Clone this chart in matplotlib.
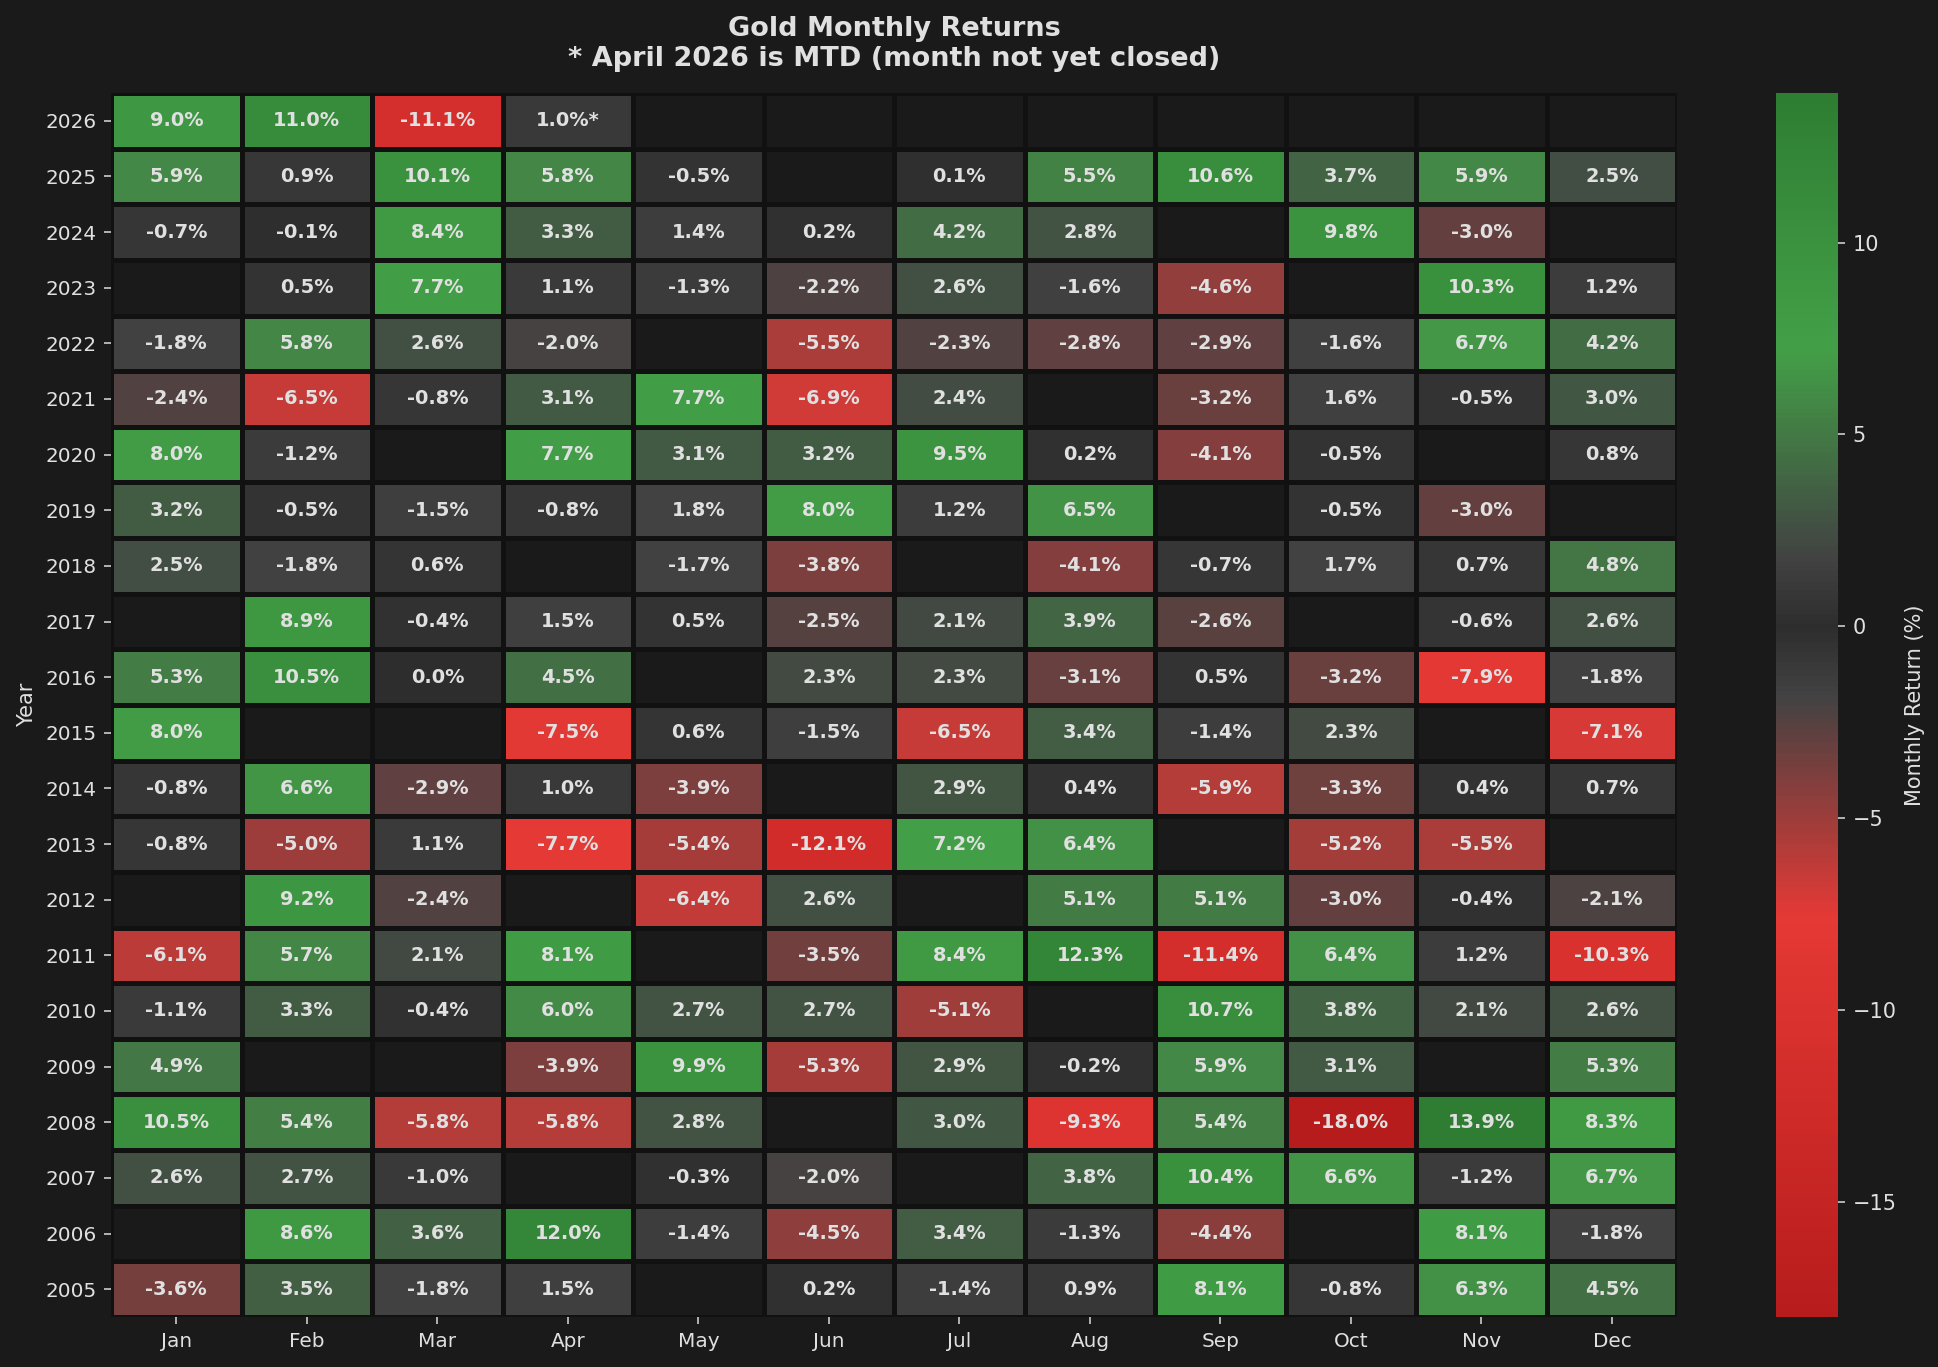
import numpy as np
import matplotlib
matplotlib.use("Agg")
import matplotlib.pyplot as plt
from matplotlib.colors import LinearSegmentedColormap, Normalize

nan = np.nan

months = ['Jan', 'Feb', 'Mar', 'Apr', 'May', 'Jun', 'Jul', 'Aug', 'Sep', 'Oct', 'Nov', 'Dec']
years = [2026, 2025, 2024, 2023, 2022, 2021, 2020, 2019, 2018, 2017, 2016,
         2015, 2014, 2013, 2012, 2011, 2010, 2009, 2008, 2007, 2006, 2005]

# monthly returns in %, one row per year (top row = 2026)
r2026 = [9.0, 11.0, -11.1, 1.0, nan, nan, nan, nan, nan, nan, nan, nan]
r2025 = [5.9, 0.9, 10.1, 5.8, -0.5, nan, 0.1, 5.5, 10.6, 3.7, 5.9, 2.5]
r2024 = [-0.7, -0.1, 8.4, 3.3, 1.4, 0.2, 4.2, 2.8, nan, 9.8, -3.0, nan]
r2023 = [nan, 0.5, 7.7, 1.1, -1.3, -2.2, 2.6, -1.6, -4.6, nan, 10.3, 1.2]
r2022 = [-1.8, 5.8, 2.6, -2.0, nan, -5.5, -2.3, -2.8, -2.9, -1.6, 6.7, 4.2]
r2021 = [-2.4, -6.5, -0.8, 3.1, 7.7, -6.9, 2.4, nan, -3.2, 1.6, -0.5, 3.0]
r2020 = [8.0, -1.2, nan, 7.7, 3.1, 3.2, 9.5, 0.2, -4.1, -0.5, nan, 0.8]
r2019 = [3.2, -0.5, -1.5, -0.8, 1.8, 8.0, 1.2, 6.5, nan, -0.5, -3.0, nan]
r2018 = [2.5, -1.8, 0.6, nan, -1.7, -3.8, nan, -4.1, -0.7, 1.7, 0.7, 4.8]
r2017 = [nan, 8.9, -0.4, 1.5, 0.5, -2.5, 2.1, 3.9, -2.6, nan, -0.6, 2.6]
r2016 = [5.3, 10.5, 0.0, 4.5, nan, 2.3, 2.3, -3.1, 0.5, -3.2, -7.9, -1.8]
r2015 = [8.0, nan, nan, -7.5, 0.6, -1.5, -6.5, 3.4, -1.4, 2.3, nan, -7.1]
r2014 = [-0.8, 6.6, -2.9, 1.0, -3.9, nan, 2.9, 0.4, -5.9, -3.3, 0.4, 0.7]
r2013 = [-0.8, -5.0, 1.1, -7.7, -5.4, -12.1, 7.2, 6.4, nan, -5.2, -5.5, nan]
r2012 = [nan, 9.2, -2.4, nan, -6.4, 2.6, nan, 5.1, 5.1, -3.0, -0.4, -2.1]
r2011 = [-6.1, 5.7, 2.1, 8.1, nan, -3.5, 8.4, 12.3, -11.4, 6.4, 1.2, -10.3]
r2010 = [-1.1, 3.3, -0.4, 6.0, 2.7, 2.7, -5.1, nan, 10.7, 3.8, 2.1, 2.6]
r2009 = [4.9, nan, nan, -3.9, 9.9, -5.3, 2.9, -0.2, 5.9, 3.1, nan, 5.3]
r2008 = [10.5, 5.4, -5.8, -5.8, 2.8, nan, 3.0, -9.3, 5.4, -18.0, 13.9, 8.3]
r2007 = [2.6, 2.7, -1.0, nan, -0.3, -2.0, nan, 3.8, 10.4, 6.6, -1.2, 6.7]
r2006 = [nan, 8.6, 3.6, 12.0, -1.4, -4.5, 3.4, -1.3, -4.4, nan, 8.1, -1.8]
r2005 = [-3.6, 3.5, -1.8, 1.5, nan, 0.2, -1.4, 0.9, 8.1, -0.8, 6.3, 4.5]

rows = [r2026, r2025, r2024, r2023, r2022, r2021, r2020, r2019, r2018, r2017, r2016,
        r2015, r2014, r2013, r2012, r2011, r2010, r2009, r2008, r2007, r2006, r2005]

BG = '#1a1a1a'
TXT = '#e0e0e0'


def main():
    data = np.array(rows, dtype=float)
    vmin = np.nanmin(data)
    vmax = np.nanmax(data)

    # colour nodes in value space -> red / dark grey / green
    nodes = [(-18.0, '#b71c1c'), (-7.6, '#e53935'), (-1.8, '#424242'),
             (0.0, '#2d2d2d'), (1.8, '#424242'), (7.3, '#43a047'), (13.9, '#2e7d32')]
    cmap = LinearSegmentedColormap.from_list(
        'gold', [((v - vmin) / (vmax - vmin), c) for v, c in nodes])
    cmap.set_bad(BG)

    fig = plt.figure(figsize=(1939 / 150, 1367 / 150), dpi=150, facecolor=BG)
    ax = fig.add_axes([0.0573, 0.0366, 0.8077, 0.8954])
    ax.set_facecolor(BG)

    mesh = ax.pcolormesh(np.ma.masked_invalid(data), cmap=cmap,
                         norm=Normalize(vmin=vmin, vmax=vmax),
                         edgecolors='#111111', linewidth=1.6)
    ax.set_xlim(0, len(months))
    ax.set_ylim(len(years), 0)

    for i in range(len(years)):
        for j in range(len(months)):
            v = data[i, j]
            if np.isnan(v):
                continue
            s = f"{v:.1f}%"
            if years[i] == 2026 and j == 3:
                s += "*"
            ax.text(j + 0.5, i + 0.5, s, ha='center', va='center',
                    color=TXT, fontsize=9.3, fontweight='bold')

    ax.set_xticks(np.arange(len(months)) + 0.5)
    ax.set_xticklabels(months)
    ax.set_yticks(np.arange(len(years)) + 0.5)
    ax.set_yticklabels([str(y) for y in years])
    ax.tick_params(colors='#cccccc', labelsize=9.6, labelcolor=TXT)
    for sp in ax.spines.values():
        sp.set_visible(False)
    ax.set_ylabel('Year', color=TXT, fontsize=10)

    ax.set_title('Gold Monthly Returns\n* April 2026 is MTD (month not yet closed)',
                 color=TXT, fontsize=13, fontweight='bold', pad=13)

    cax = fig.add_axes([0.916, 0.0366, 0.032, 0.8954])
    cb = fig.colorbar(mesh, cax=cax)
    cb.outline.set_visible(False)
    cb.ax.tick_params(colors='#cccccc', labelsize=10, labelcolor=TXT)
    cb.set_label('Monthly Return (%)', color=TXT, fontsize=10)

    plt.savefig('out.png', dpi=150, facecolor=BG)


if __name__ == "__main__":
    main()
